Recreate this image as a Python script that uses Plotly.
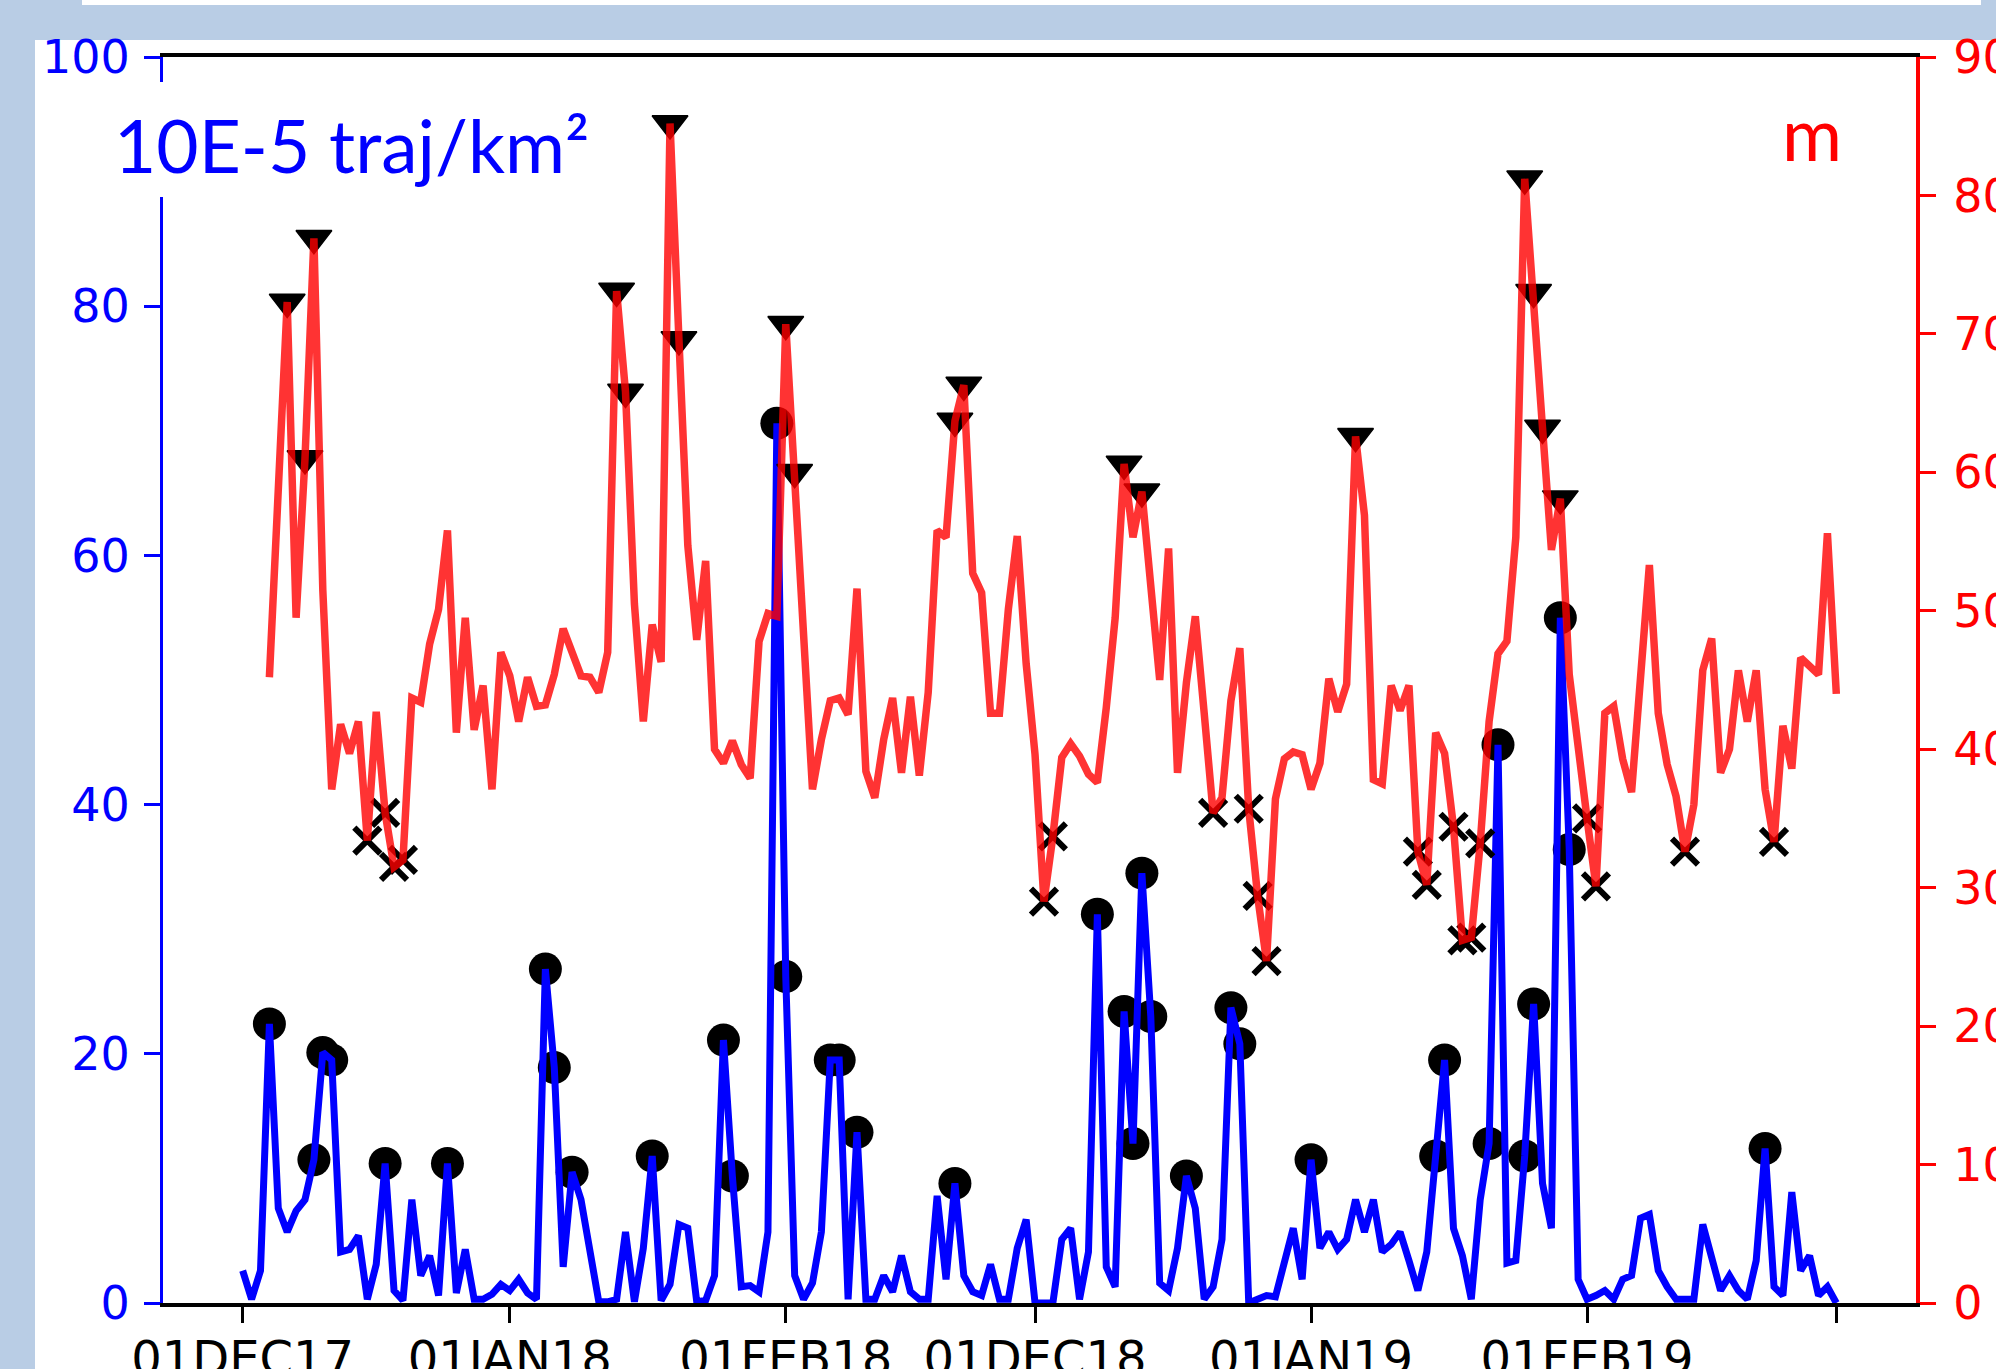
import plotly.graph_objects as go

# ---------------- data ----------------
tick_idx = [0, 30, 61, 89, 120, 151, 179]
tick_text = ['01DEC17', '01JAN18', '01FEB18', '01DEC18', '01JAN19', '01FEB19', '']

density = [
    2.6, 0.3, 2.6, 22.4, 7.6, 5.7, 7.4, 8.3, 11.5, 20.1,
    19.5, 4.1, 4.3, 5.4, 0.3, 3.1, 11.2, 1.0, 0.2, 8.3,
    2.2, 3.8, 0.6, 11.2, 0.8, 4.3, 0.3, 0.3, 0.7, 1.5,
    1.0, 1.9, 0.8, 0.3, 26.8, 18.9, 2.9, 10.5, 8.3, 4.4,
    0.1, 0.1, 0.3, 5.7, 0.1, 4.4, 11.8, 0.2, 1.5, 6.3,
    6.0, 0.1, 0.2, 2.2, 21.1, 10.2, 1.3, 1.4, 0.9, 5.7,
    70.6, 26.2, 2.2, 0.3, 1.6, 5.7, 19.5, 19.5, 0.3, 13.7,
    0.3, 0.3, 2.2, 0.9, 3.8, 0.9, 0.3, 0.3, 8.6, 1.9,
    9.6, 2.2, 0.9, 0.6, 3.1, 0.3, 0.3, 4.4, 6.7, 0.0,
    0.0, 0.0, 5.1, 6.0, 0.3, 4.1, 31.2, 2.9, 1.3, 23.4,
    12.8, 34.5, 23.0, 1.6, 1.0, 4.4, 10.2, 7.6, 0.3, 1.3,
    5.1, 23.7, 20.8, 0.0, 0.3, 0.6, 0.5, 3.2, 6.0, 1.9,
    11.5, 4.4, 5.7, 4.3, 5.1, 8.3, 5.7, 8.3, 4.1, 4.7,
    5.7, 3.4, 1.0, 4.1, 11.8, 19.5, 6.0, 3.8, 0.3, 8.3,
    12.8, 44.8, 3.2, 3.4, 11.8, 24.0, 9.6, 6.0, 55.0, 36.4,
    1.9, 0.3, 0.6, 1.0, 0.3, 1.9, 2.2, 6.8, 7.1, 2.6,
    1.3, 0.3, 0.3, 0.3, 6.3, 3.4, 1.0, 2.2, 1.0, 0.3,
    3.4, 12.4, 1.3, 0.6, 8.9, 2.6, 3.8, 0.6, 1.3, 0.0,
]

height_m = [
    None, None, None, 45.2, 57.5, 72.3, 49.5, 61.0, 76.9, 51.5,
    37.1, 41.8, 39.7, 42.0, 33.4, 42.7, 35.4, 31.5, 32.0, 43.7,
    43.4, 47.6, 50.1, 55.8, 41.2, 49.5, 41.4, 44.6, 37.1, 47.0,
    45.3, 42.0, 45.2, 43.1, 43.2, 45.4, 48.7, 46.8, 45.3, 45.2,
    44.1, 47.0, 73.1, 65.8, 50.5, 42.0, 49.0, 46.3, 85.2, 69.6,
    54.7, 47.9, 53.6, 40.0, 39.0, 40.6, 38.9, 37.9, 47.8, 49.8,
    49.6, 70.7, 60.0, 49.7, 37.1, 40.7, 43.5, 43.7, 42.5, 51.6,
    38.4, 36.5, 40.7, 43.7, 38.3, 43.8, 38.1, 44.1, 55.8, 55.3,
    63.7, 66.3, 52.7, 51.3, 42.6, 42.6, 50.1, 55.4, 46.2, 39.6,
    29.0, 33.7, 39.4, 40.4, 39.5, 38.2, 37.6, 43.0, 49.5, 60.6,
    55.3, 58.6, 52.4, 45.0, 54.5, 38.3, 44.8, 49.6, 42.6, 35.4,
    36.5, 43.5, 47.3, 35.7, 29.4, 24.7, 36.4, 39.3, 39.8, 39.6,
    37.1, 39.0, 45.1, 42.7, 44.7, 62.6, 56.9, 37.8, 37.5, 44.6,
    42.8, 44.6, 32.6, 30.2, 41.2, 39.7, 34.4, 26.2, 26.4, 33.2,
    42.0, 46.9, 47.8, 55.3, 81.2, 73.0, 63.2, 54.4, 58.1, 45.4,
    39.7, 35.0, 30.1, 42.6, 43.1, 39.3, 36.9, 45.4, 53.3, 42.6,
    38.9, 36.6, 32.6, 36.0, 45.7, 48.0, 38.3, 40.0, 45.7, 42.0,
    45.7, 37.1, 33.3, 41.7, 38.6, 46.6, 46.0, 45.4, 55.6, 44.0,
]

high_idx = [5, 7, 8, 42, 43, 48, 49, 61, 62, 80, 81, 99, 101, 125, 144, 145, 146, 148]
low_idx = [14, 16, 17, 18, 90, 91, 109, 113, 114, 115, 132, 133, 136, 137, 138, 139,
           151, 152, 162, 172]
peak_idx = [3, 8, 9, 10, 16, 23, 34, 35, 37, 46, 54, 55, 60, 61, 66, 67, 69, 80, 96, 99,
            100, 101, 102, 106, 111, 112, 120, 134, 135, 140, 141, 144, 145, 148, 149, 171]

day_idx = list(range(len(density)))

# ---------------- layout geometry ----------------
W, H = 1996, 1369
PL, PR, PT, PB = 163, 1916, 57, 1303


def pxx(X):
    return (X - PL) / (PR - PL)


def pyy(Y):
    return (PB - Y) / (PB - PT)


BLUE = '#0000ff'
RED = '#ff0000'
BG = '#b9cde5'

fig = go.Figure()

fig.add_trace(go.Scatter(
    x=peak_idx, y=[density[i] for i in peak_idx], mode='markers',
    marker=dict(symbol='circle', size=33, color='black', line=dict(width=0)),
    yaxis='y', showlegend=False, hoverinfo='skip'))
fig.add_trace(go.Scatter(
    x=day_idx, y=density, mode='lines', line=dict(color=BLUE, width=7),
    yaxis='y', showlegend=False))
fig.add_trace(go.Scatter(
    x=high_idx, y=[height_m[i] for i in high_idx], mode='markers',
    marker=dict(symbol='triangle-down', size=31, color='black',
                line=dict(width=1.5, color='black')),
    yaxis='y2', showlegend=False, hoverinfo='skip'))
fig.add_trace(go.Scatter(
    x=low_idx, y=[height_m[i] for i in low_idx], mode='markers',
    marker=dict(symbol='x-thin', size=26, color='black',
                line=dict(width=6, color='black')),
    yaxis='y2', showlegend=False, hoverinfo='skip'))
fig.add_trace(go.Scatter(
    x=day_idx, y=height_m, mode='lines', line=dict(color='rgba(255,0,0,0.8)', width=7.5),
    yaxis='y2', showlegend=False, connectgaps=False))

fig.update_layout(
    width=W, height=H, autosize=False,
    margin=dict(l=PL, r=W - PR, t=PT, b=H - PB, pad=0),
    paper_bgcolor=BG, plot_bgcolor='white',
    xaxis=dict(range=[-8.95, 187.95], tickmode='array', tickvals=tick_idx, ticktext=tick_text,
               showgrid=False, zeroline=False, showline=True, linecolor='black', linewidth=4,
               mirror=True, ticks='outside', ticklen=16, tickwidth=3, tickcolor='black',
               tickfont=dict(family='DejaVu Sans', size=48, color='black'),
               ticklabelstandoff=-6, automargin=False),
    yaxis=dict(range=[0, 100], tickmode='array', tickvals=[0, 20, 40, 60, 80, 100],
               showgrid=False, zeroline=False, showline=True, linecolor=BLUE, linewidth=3,
               ticks='outside', ticklen=16, tickwidth=3, tickcolor=BLUE,
               tickfont=dict(family='DejaVu Sans', size=46, color=BLUE),
               ticklabelstandoff=5, automargin=False),
    yaxis2=dict(range=[0, 90], tickmode='array', tickvals=list(range(0, 91, 10)),
                overlaying='y', side='right',
                showgrid=False, zeroline=False, showline=True, linecolor=RED, linewidth=4,
                ticks='outside', ticklen=16, tickwidth=3, tickcolor=RED,
                tickfont=dict(family='DejaVu Sans', size=46, color=RED),
                ticklabelstandoff=8, automargin=False),
    shapes=[
        dict(type='rect', xref='paper', yref='paper', layer='below',
             x0=pxx(35), x1=pxx(2100), y0=pyy(1450), y1=pyy(40),
             fillcolor='white', line=dict(width=0)),
        dict(type='rect', xref='paper', yref='paper', layer='below',
             x0=pxx(82), x1=pxx(1981), y0=pyy(5), y1=pyy(-20),
             fillcolor='white', line=dict(width=0)),
        dict(type='rect', xref='paper', yref='paper', layer='above',
             x0=pxx(100), x1=pxx(600), y0=pyy(197), y1=pyy(82),
             fillcolor='white', line=dict(width=0)),
    ],
    annotations=[
        dict(text='10E-5 traj/km²', xref='paper', yref='paper', x=pxx(112), y=pyy(145),
             xanchor='left', yanchor='middle', showarrow=False,
             font=dict(family='Lato', size=73, color=BLUE)),
        dict(text='m', xref='paper', yref='paper', x=pxx(1780), y=pyy(133),
             xanchor='left', yanchor='middle', showarrow=False,
             font=dict(family='Lato', size=73, color=RED)),
    ],
)

fig.write_html("out.html", config={'displayModeBar': False},
               post_script="document.body.style.margin='0px';")
